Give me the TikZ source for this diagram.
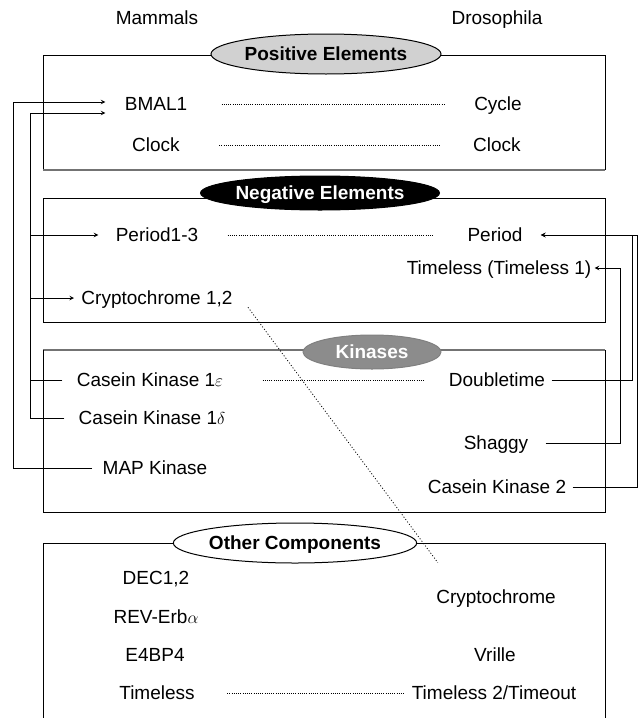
\documentclass[tikz,border=0pt]{standalone}
\usepackage{amsmath,amssymb}
\usepackage{fontspec}
\setmainfont{Liberation Sans}
\usetikzlibrary{calc,positioning,arrows,shapes.geometric}

\begin{document}
\begin{tikzpicture}[x=1pt,y=-1pt,line width=1pt,
		every node/.style={font=\fontsize{19}{22}\selectfont,inner sep=2pt,text height=13.6pt,text depth=0pt},
		group/.style={ellipse,draw,inner sep=0pt,font=\fontsize{19}{22}\selectfont\bfseries},
		homolog/.style={dash pattern=on 1pt off 1.2pt,line width=0.8pt}]
		\useasboundingbox (0,0) rectangle (641,718);
		% boxes
		\draw (43,170) -- (43,55) -- (605,55) -- (605,170);
		\draw[black!55,line width=1.2pt] (43,170) -- (605,170);
		\draw (43,198) rectangle (605,322);
		\draw[black!55,line width=1.2pt] (43,350) -- (605,350);
		\draw (43,350) -- (43,512) -- (605,512) -- (605,350);
		\draw (43,718) -- (43,543) -- (605,543) -- (605,718);
		% group labels
		\node[group,fill=black!18,minimum width=207pt,minimum height=40pt] (posE) at (326,54) {Positive Elements};
		\node[group,fill=black,text=white,minimum width=192pt,minimum height=34pt] (negE) at (320,193) {Negative Elements};
		\node[group,draw=black!50,fill=black!45,text=white,minimum width=138pt,minimum height=34pt] (kinE) at (372,352) {Kinases};
		\node[group,fill=white,minimum width=200pt,minimum height=40pt] (othE) at (295,543) {Other Components};
		% columns
		\node (mam) at (157,18) {Mammals};
		\node (dro) at (497,18) {Drosophila};
		\node (bmal) at (156,104) {BMAL1};
		\node (cyc) at (498,104) {Cycle};
		\node (clkM) at (156,145) {Clock};
		\node (clkD) at (497,145) {Clock};
		\node (per13) at (157,235) {Period1-3};
		\node (per) at (495,235) {Period};
		\node (tim1) at (499,268) {Timeless (Timeless 1)};
		\node (cry12) at (157,298) {Cryptochrome 1,2};
		\node (cke) at (150,380) {Casein Kinase 1$\varepsilon$};
		\node (ckd) at (152,418) {Casein Kinase 1$\delta$};
		\node (mapk) at (155,468) {MAP Kinase};
		\node (dbt) at (497,380) {Doubletime};
		\node (sgg) at (496,443) {Shaggy};
		\node (ck2) at (497,487) {Casein Kinase 2};
		\node (dec) at (156,578) {DEC1,2};
		\node (rev) at (156,617) {REV-Erb$\alpha$};
		\node (e4bp) at (155,655) {E4BP4};
		\node (timM) at (157,693) {Timeless};
		\node (cry) at (496,597) {Cryptochrome};
		\node (vri) at (495,655) {Vrille};
		\node (tim2) at (494,693) {Timeless 2/Timeout};
		\coordinate (l1) at (13,0);
		\coordinate (l2) at (30,0);
		\coordinate (r1) at (620,0);
		\coordinate (r2) at (632,0);
		\coordinate (r3) at (637,0);
		% homologues
		\draw[homolog,shorten <=32pt,shorten >=26pt] (bmal) -- (cyc);
		\draw[homolog,shorten <=37pt,shorten >=30pt] (clkM) -- (clkD);
		\draw[homolog,shorten <=27pt,shorten >=31pt] (per13) -- (per);
		\draw[homolog,shorten <=37pt,shorten >=23pt] (cke) -- (dbt);
		\draw[homolog,shorten <=30pt,shorten >=4pt] (timM) -- (tim2);
		\draw[homolog,dash pattern=on 1pt off 2pt] ([xshift=13pt]cry12.south east) -- ([xshift=4pt,yshift=25pt]cry.north west);
		% kinase targets
		\draw[-stealth,shorten <=8pt,shorten >=17pt] (mapk.west) -- (mapk.west -| l1) |- ([yshift=2pt]bmal.west);
		\draw[-stealth,shorten <=12pt,shorten >=17pt] (ckd.west) -- (ckd.west -| l2) |- ([yshift=-9pt]bmal.west);
		\draw[-stealth,shorten <=12pt,shorten >=15pt] (ckd.west) -- (ckd.west -| l2) |- (per13.west);
		\draw[-stealth,shorten <=12pt,shorten >=5pt] (ckd.west) -- (ckd.west -| l2) |- (cry12.west);
		\draw[shorten <=12pt] (cke.west) -- (cke.west -| l2);
		\draw[-stealth,shorten <=4pt,shorten >=16pt] (dbt.east) -- (dbt.east -| r2) |- (per.east);
		\draw[-stealth,shorten <=4pt,shorten >=16pt] (ck2.east) -- (ck2.east -| r3) |- (per.east);
		\draw[-stealth,shorten <=15pt,shorten >=1pt] (sgg.east) -- (sgg.east -| r1) |- (tim1.east);
	\end{tikzpicture}
\end{document}
